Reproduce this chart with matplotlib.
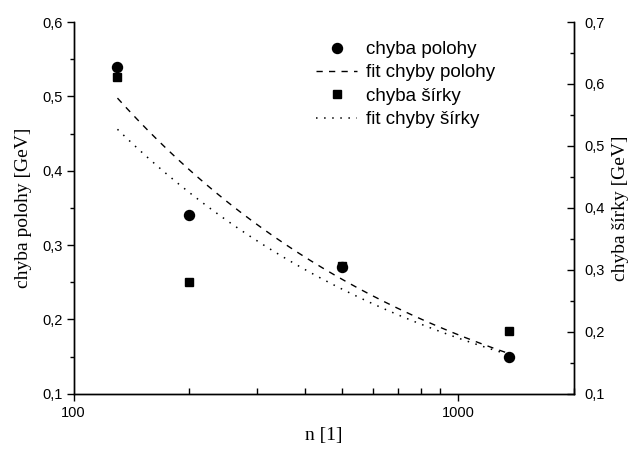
import numpy as np
import matplotlib
matplotlib.use("Agg")
import matplotlib.pyplot as plt
from matplotlib.ticker import FuncFormatter, FixedLocator, MultipleLocator

# namerane hodnoty
n = [130, 200, 500, 1360]
chyba_polohy = [0.54, 0.34, 0.27, 0.15]
chyba_sirky = [0.612, 0.28, 0.307, 0.202]

x_ticks = [100, 1000]
x_tick_labels = ["100", "1000"]

sans = ["Liberation Sans", "DejaVu Sans"]
serif = ["Liberation Serif", "DejaVu Serif"]


def fit_sqrt(x, y):
    # fit y = a / sqrt(n), metoda najmensich stvorcov
    x = np.asarray(x, float) ** -0.5
    y = np.asarray(y, float)
    return np.sum(x * y) / np.sum(x * x)


a_pol = fit_sqrt(n, chyba_polohy)
a_sir = fit_sqrt(n, chyba_sirky)
nn = np.geomspace(n[0], n[-1], 200)

fig = plt.figure(figsize=(6.35, 4.5), dpi=100)
ax = fig.add_axes([0.116, 0.125, 0.9035 - 0.116, 0.951 - 0.125])
ax2 = ax.twinx()

h1, = ax.plot(n, chyba_polohy, "o", color="black", ms=7.2, label="chyba polohy")
h2, = ax.plot(nn, a_pol / np.sqrt(nn), color="black", lw=1.0,
              linestyle=(0, (4.5, 4.5)), label="fit chyby polohy")
h3, = ax2.plot(n, chyba_sirky, "s", color="black", ms=6.2, label="chyba šírky")
h4, = ax2.plot(nn, a_sir / np.sqrt(nn), color="black", lw=1.1,
               linestyle=(0, (1, 4.3)), label="fit chyby šírky")

ax.set_xscale("log")
ax.set_xlim(100, 2000)
ax.set_ylim(0.1, 0.6)
ax2.set_ylim(0.1, 0.7)

comma = FuncFormatter(lambda v, p: ("%.1f" % v).replace(".", ","))
ax.yaxis.set_major_locator(MultipleLocator(0.1))
ax.yaxis.set_minor_locator(MultipleLocator(0.05))
ax.yaxis.set_major_formatter(comma)
ax2.yaxis.set_major_locator(MultipleLocator(0.1))
ax2.yaxis.set_minor_locator(MultipleLocator(0.05))
ax2.yaxis.set_major_formatter(comma)

ax.xaxis.set_major_locator(FixedLocator(x_ticks))
ax.set_xticklabels(x_tick_labels)
ax.xaxis.set_minor_locator(FixedLocator([200, 300, 400, 500, 600, 700, 800, 900, 2000]))
ax.xaxis.set_minor_formatter(FuncFormatter(lambda v, p: ""))

for a in (ax, ax2):
    a.spines["top"].set_visible(False)
    for s in a.spines.values():
        s.set_linewidth(1.0)

ax.tick_params(axis="x", which="major", direction="out", length=5, width=1.0,
               labelsize=10.5, pad=4)
ax.tick_params(axis="x", which="minor", direction="in", length=4, width=1.0)
ax.tick_params(axis="y", which="major", direction="out", length=5, width=1.0,
               labelsize=10.5, pad=3)
ax.tick_params(axis="y", which="minor", direction="out", length=3, width=1.0)
ax2.tick_params(axis="y", which="major", direction="in", length=5, width=1.0,
                labelsize=10.5, pad=8)
ax2.tick_params(axis="y", which="minor", direction="in", length=3, width=1.0)

for lab in ax.get_xticklabels() + ax.get_yticklabels() + ax2.get_yticklabels():
    lab.set_family(sans)

ax.set_xlabel("n [1]", family=serif, fontsize=14, labelpad=5)
ax.set_ylabel("chyba polohy [GeV]", family=serif, fontsize=14, labelpad=7)
ax2.set_ylabel("chyba šírky [GeV]", family=serif, fontsize=14, labelpad=5)

leg = ax.legend(handles=[h1, h2, h3, h4], loc="upper left",
                bbox_to_anchor=(316 / 635, 1 - 41 / 450),
                bbox_transform=fig.transFigure, frameon=False,
                prop={"family": sans, "size": 13.5}, handlelength=2.2,
                handletextpad=0.45, labelspacing=0.33, borderaxespad=0,
                borderpad=0)

fig.savefig("out.png", dpi=100)
